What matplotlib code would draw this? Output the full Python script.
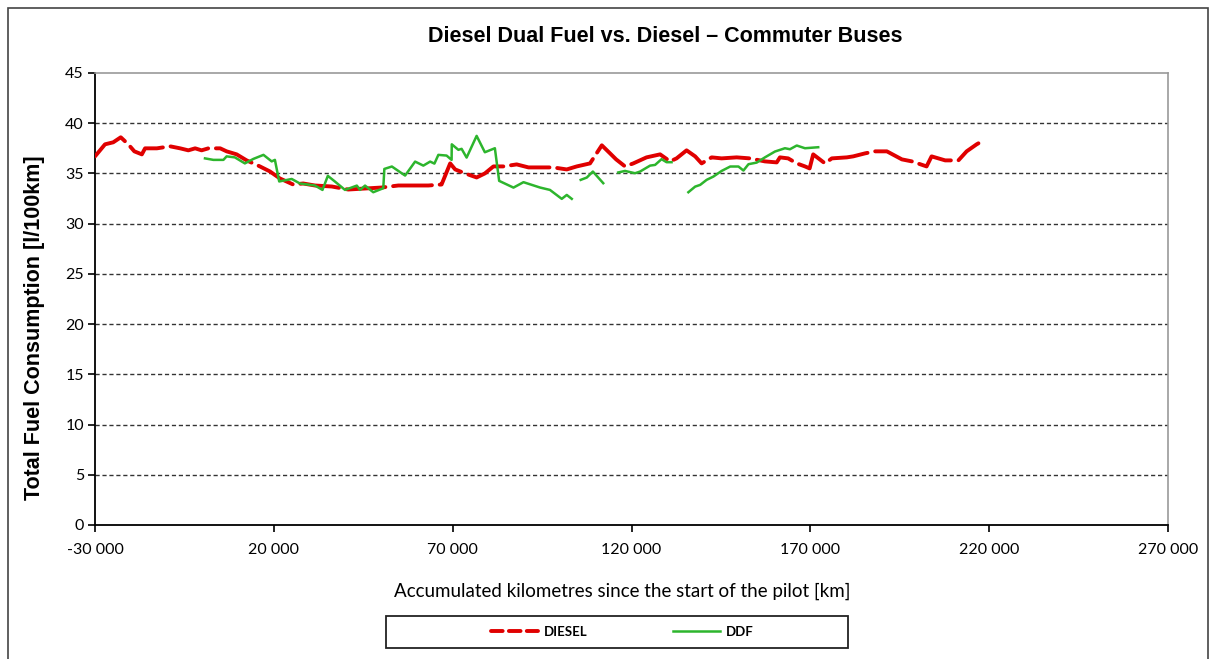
import numpy as np
import matplotlib
matplotlib.use("Agg")
import matplotlib.pyplot as plt
from matplotlib.lines import Line2D
from matplotlib.patches import Rectangle
from matplotlib.ticker import FuncFormatter, MultipleLocator, FixedLocator

# DIESEL series (km since start of pilot, l/100km)
diesel_km = [-30000, -27200, -24900, -22800, -20700, -19000, -16900, -16000, -12700, -9000,
             -6200, -3900, -2000, -200, 1700, 5000, 6800, 9600, 12400, 16100,
             18900, 21700, 25400, 28200, 31500, 36200, 40800, 45500, 50200, 54800,
             59500, 63200, 66900, 69300, 70700, 73500, 76700, 79000, 81400, 84200,
             87900, 91200, 94400, 98100, 101900, 104700, 108400, 111700, 114000, 115700,
             118200, 120500, 124200, 128000, 130800, 132600, 135400, 137800, 139600, 142400,
             145200, 149400, 153100, 157300, 160600, 161500, 163800, 166200, 168500, 169800,
             170800, 174100, 176000, 180200, 182000, 185300, 188100, 191400, 195600, 198400,
             202500, 203900, 207700, 211400, 213700, 216500, 217000]
diesel_cons = [36.7, 37.9, 38.1, 38.6, 37.9, 37.2, 36.9, 37.5, 37.5, 37.7,
               37.5, 37.3, 37.5, 37.3, 37.5, 37.5, 37.2, 36.9, 36.3, 35.7,
               35.2, 34.5, 33.9, 34.0, 33.8, 33.7, 33.4, 33.5, 33.6, 33.8,
               33.8, 33.8, 33.9, 36.0, 35.4, 35.0, 34.6, 35.0, 35.7, 35.7,
               35.9, 35.6, 35.6, 35.6, 35.4, 35.7, 36.0, 37.8, 37.0, 36.4,
               35.7, 36.0, 36.6, 36.9, 36.2, 36.5, 37.3, 36.7, 36.0, 36.6,
               36.5, 36.6, 36.5, 36.2, 36.1, 36.6, 36.5, 36.0, 35.7, 35.5,
               36.9, 36.0, 36.5, 36.6, 36.7, 37.0, 37.2, 37.2, 36.4, 36.2,
               35.7, 36.7, 36.3, 36.3, 37.2, 37.9, 38.0]

# DDF series, None = gap in the data
ddf_km = [750, 3100, 5900, 6800, 9100, 11900, 14300, 17100, 19400, 20300,
          21500, 25000, 27300, 31500, 33600, 35100, 37100, 39900, 43200, 44100,
          45500, 47800, 50600, 50900, 53000, 56700, 59500, 61800, 63700, 64900,
          66000, 68300, 69700, 69750, 71600, 72500, 73900, 76700, 79000, 81800,
          83000, 87000, 89800, 94400, 97200, 100500, 101900, 103300, None, 105800,
          107500, 109200, 112100, None, 116300, 118200, 121000, 122400, 125200, 126600,
          128400, 129800, 131200, None, 135900, 137800, 139200, 141000, 142900, 145200,
          147600, 149900, 151300, 152700, 155000, 157300, 160100, 162900, 164300, 166200,
          168500, 172200]
ddf_cons = [36.5, 36.35, 36.35, 36.7, 36.6, 36.0, 36.45, 36.85, 36.2, 36.35,
            34.2, 34.45, 34.0, 33.8, 33.36, 34.76, 34.19, 33.36, 33.79, 33.36,
            33.79, 33.13, 33.53, 35.45, 35.69, 34.79, 36.18, 35.78, 36.18, 35.98,
            36.85, 36.78, 36.35, 37.9, 37.35, 37.45, 36.58, 38.74, 37.11, 37.51,
            34.26, 33.59, 34.13, 33.6, 33.36, 32.47, 32.86, 32.47, None, 34.36,
            34.59, 35.19, 34.03, None, 35.1, 35.25, 35.02, 35.19, 35.78, 35.85,
            36.42, 36.12, 36.12, None, 33.13, 33.69, 33.86, 34.36, 34.69, 35.25,
            35.69, 35.69, 35.29, 35.92, 36.08, 36.6, 37.18, 37.51, 37.41, 37.78,
            37.51, 37.61]

x_ticks = [-30000, 20000, 70000, 120000, 170000, 220000, 270000]

RED = "#e00000"
GREEN = "#2db52d"

fig = plt.figure(figsize=(12.1, 6.59), dpi=100)
ax = fig.add_axes([95 / 1210, 1 - 525 / 659, (1168 - 95) / 1210, (525 - 73) / 659])

# gridlines
for y in range(5, 45, 5):
    ax.axhline(y, color="#333333", lw=1.0, ls=(0, (3, 2)), zorder=1)

ddf_x = np.array([np.nan if v is None else v for v in ddf_km], dtype=float)
ddf_y = np.array([np.nan if v is None else v for v in ddf_cons], dtype=float)

ax.plot(diesel_km, diesel_cons, color=RED, lw=2.8, ls=(0, (10, 2.0)),
        dash_capstyle="round", solid_capstyle="round", zorder=3)
ax.plot(ddf_x, ddf_y, color=GREEN, lw=1.8, zorder=4)

ax.set_xlim(-30000, 270000)
ax.set_ylim(0, 45)
ax.xaxis.set_major_locator(FixedLocator(x_ticks))
ax.yaxis.set_major_locator(MultipleLocator(5))
ax.xaxis.set_major_formatter(FuncFormatter(lambda v, p: f"{v:,.0f}".replace(",", " ")))
ax.yaxis.set_major_formatter(FuncFormatter(lambda v, p: f"{v:.0f}"))

for s in ["left", "bottom"]:
    ax.spines[s].set_color("black")
    ax.spines[s].set_linewidth(1.3)
for s in ["right", "top"]:
    ax.spines[s].set_color("#999999")
    ax.spines[s].set_linewidth(1.2)

ax.tick_params(axis="both", direction="out", length=5, width=1.2, color="black",
               labelsize=11.5, labelfontfamily="Lato")
ax.tick_params(axis="x", pad=8)
ax.tick_params(axis="y", pad=3)

fig.text(665 / 1210, 1 - 36 / 659, "Diesel Dual Fuel vs. Diesel \u2013 Commuter Buses",
         ha="center", va="center", fontsize=15.5, fontweight="bold", family="Liberation Sans")
fig.text(35 / 1210, 1 - 328 / 659, "Total Fuel Consumption [l/100km]", rotation=90,
         ha="center", va="center", fontsize=15.5, fontweight="bold", family="Liberation Sans")
fig.text(622 / 1210, 1 - 591 / 659, "Accumulated kilometres since the start of the pilot [km]",
         ha="center", va="center", fontsize=13.5, family="Lato")

# outer chart border and legend box
fig.patches.append(Rectangle((8 / 1210, -0.02), 1200 / 1210, 1.02 - 8 / 659,
                             transform=fig.transFigure, fill=False, ec="#444444", lw=1.2))
fig.patches.append(Rectangle((386 / 1210, 1 - 648 / 659), 462 / 1210, 32 / 659,
                             transform=fig.transFigure, fill=False, ec="#222222", lw=1.3))

handles = [Line2D([], [], color=RED, lw=2.8, ls=(0, (3, 1.6)), dash_capstyle="round"),
           Line2D([], [], color=GREEN, lw=1.8)]
fig.legend(handles, ["DIESEL", "DDF"], loc="center", bbox_to_anchor=(622 / 1210, 1 - 632 / 659),
           ncol=2, frameon=False, handlelength=3.6, columnspacing=6.5, handletextpad=0.4,
           prop={"family": "Lato", "weight": "bold", "size": 9.5})

fig.savefig("out.png", dpi=100)
